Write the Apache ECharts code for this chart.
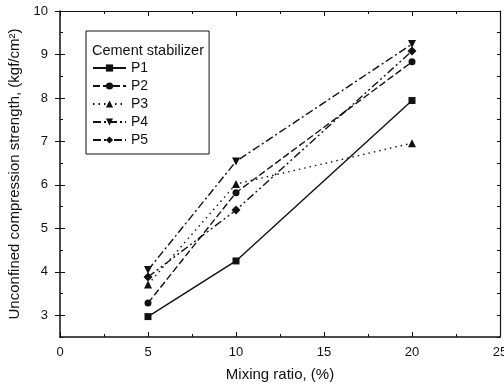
<!DOCTYPE html>
<html>
<head>
<meta charset="utf-8">
<style>
  html, body { margin: 0; padding: 0; background: #fff; }
  #chart { width: 504px; height: 388px; }
</style>
<script src="https://cdn.jsdelivr.net/npm/echarts@6/dist/echarts.min.js"></script>
</head>
<body>
<div id="chart"></div>
<script>
// mixing ratio (%) at which the samples were tested
const mixingRatio = [5, 10, 20];

// unconfined compression strength, kgf/cm2
const p1 = [2.97, 4.25, 7.94];
const p2 = [3.28, 5.82, 8.83];
const p3 = [3.71, 6.02, 6.96];
const p4 = [4.04, 6.54, 9.24];
const p5 = [3.88, 5.42, 9.08];

const yLabels = [3, 4, 5, 6, 7, 8, 9, 10];

const font = 'Liberation Sans';
const black = '#111';

const pairs = vals => mixingRatio.map((x, i) => [x, vals[i]]);

const lineSeries = (name, vals, symbol, size, dash, rotate) => ({
    name,
    type: 'line',
    data: pairs(vals),
    symbol,
    symbolSize: size,
    symbolRotate: rotate || 0,
    xAxisIndex: 0,
    yAxisIndex: 0,
    lineStyle: { color: black, width: 1.4, type: dash },
    itemStyle: { color: black },
    emphasis: { disabled: true },
    z: 5,
});

// y axes: minor ticks every 0.5, majors via customValues (min 2.5 is a multiple of 0.5)
const yBase = (position, extra) => ({
    type: 'value',
    position,
    min: 2.5,
    max: 10,
    interval: 0.5,
    splitLine: { show: false },
    axisLine: { show: false },
    axisLabel: { show: false },
    axisTick: { show: true, inside: true, length: 3, lineStyle: { color: black } },
    ...extra,
});

const chart = echarts.init(document.getElementById('chart'));
chart.setOption({
    animation: false,
    backgroundColor: '#fff',
    textStyle: { fontFamily: font },
    grid: { left: 60, right: 4, top: 11, bottom: 51, containLabel: false, outerBoundsMode: 'none' },
    xAxis: [
        {
            type: 'value',
            position: 'bottom',
            min: 0,
            max: 25,
            interval: 5,
            name: 'Mixing ratio, (%)',
            nameLocation: 'middle',
            nameGap: 30,
            nameTextStyle: { fontFamily: font, fontSize: 15, color: black },
            axisLine: { show: true, onZero: false, lineStyle: { color: black, width: 1.5 } },
            axisTick: { show: true, inside: true, length: 5, lineStyle: { color: black } },
            minorTick: { show: true, splitNumber: 2, length: 3, lineStyle: { color: black } },
            axisLabel: { fontFamily: font, fontSize: 13, color: black, margin: 9 },
            splitLine: { show: false },
        },
        {
            type: 'value',
            position: 'top',
            min: 0,
            max: 25,
            interval: 5,
            axisLine: { show: true, onZero: false, lineStyle: { color: black, width: 1.2 } },
            axisTick: { show: true, inside: true, length: 5, lineStyle: { color: black } },
            minorTick: { show: true, splitNumber: 2, length: 3, lineStyle: { color: black } },
            axisLabel: { show: false },
            splitLine: { show: false },
        },
    ],
    yAxis: [
        yBase('left', {
            name: 'Unconfined compression strength, (kgf/cm²)',
            nameLocation: 'middle',
            nameGap: 37,
            nameTextStyle: { fontFamily: font, fontSize: 15, color: black },
            axisLine: { show: true, onZero: false, lineStyle: { color: black, width: 1.5 } },
            axisLabel: { show: true, customValues: yLabels, fontFamily: font, fontSize: 13, color: black, margin: 12 },
        }),
        yBase('left', {
            axisTick: { show: true, inside: true, length: 5, customValues: yLabels, lineStyle: { color: black } },
        }),
        yBase('right', {
            axisLine: { show: true, onZero: false, lineStyle: { color: black, width: 1.2 } },
        }),
        yBase('right', {
            axisTick: { show: true, inside: true, length: 5, customValues: yLabels, lineStyle: { color: black } },
        }),
    ],
    legend: {
        left: 86,
        top: 31,
        orient: 'vertical',
        padding: [30, 61, 7, 6],
        itemGap: 4,
        itemWidth: 33,
        itemHeight: 9,
        borderColor: black,
        borderWidth: 1,
        textStyle: { fontFamily: font, fontSize: 14, color: black },
        data: ['P1', 'P2', 'P3', 'P4', 'P5'],
    },
    graphic: [
        {
            type: 'text',
            left: 92,
            top: 43,
            style: { text: 'Cement stabilizer', font: '14.5px "Liberation Sans"', fill: black },
        },
    ],
    series: [
        lineSeries('P1', p1, 'rect', 7, 'solid'),
        lineSeries('P2', p2, 'circle', 7, [7, 3]),
        lineSeries('P3', p3, 'triangle', 8, [1.5, 4]),
        lineSeries('P4', p4, 'triangle', 8, [8, 3, 2, 3], 180),
        lineSeries('P5', p5, 'diamond', 9, [8, 3, 2, 3, 2, 3]),
    ],
});
</script>
</body>
</html>
